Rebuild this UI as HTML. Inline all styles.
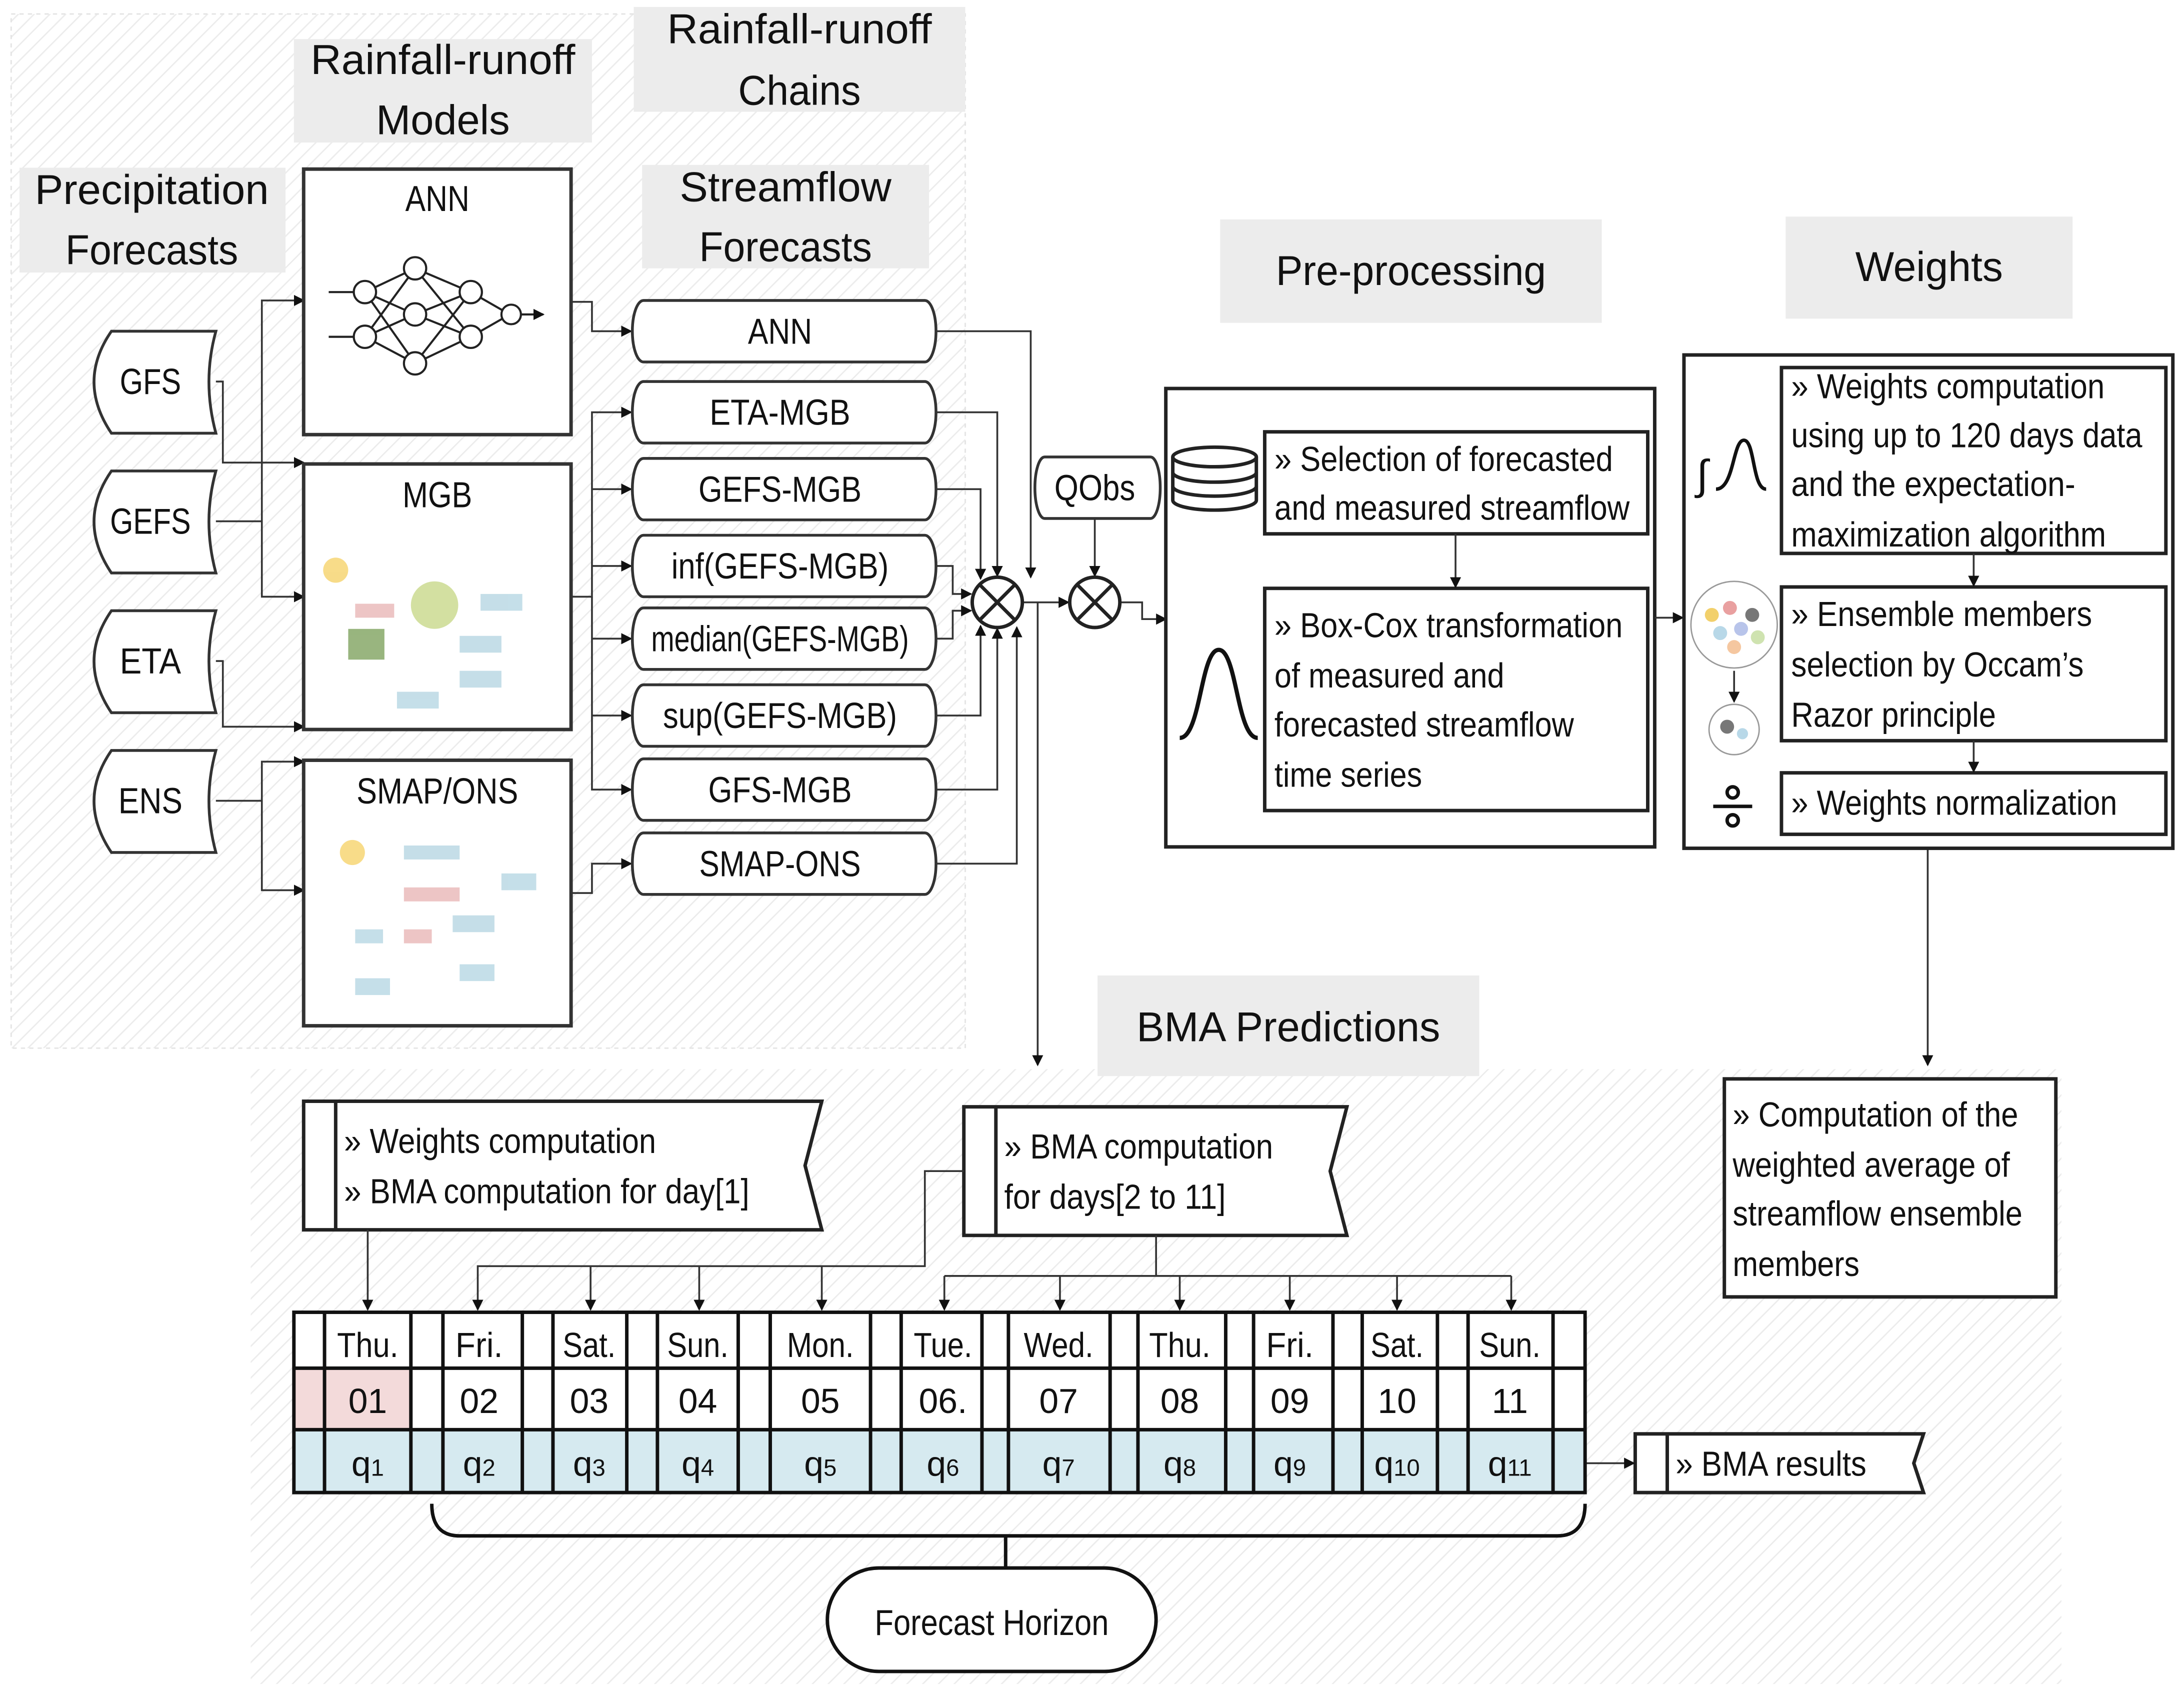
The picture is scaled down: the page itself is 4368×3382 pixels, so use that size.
<!DOCTYPE html>
<html><head><meta charset="utf-8"><style>
html,body{margin:0;padding:0;background:#fff}
svg{display:block}
text{font-family:"Liberation Sans Narrow","Liberation Sans",sans-serif;fill:#111}
</style></head><body>
<svg width="4368" height="3382" viewBox="0 0 1568 1210" preserveAspectRatio="none" xmlns="http://www.w3.org/2000/svg">
<defs>
<pattern id="h" width="8" height="8" patternUnits="userSpaceOnUse" patternTransform="rotate(45)">
<rect width="8" height="8" fill="#fff"/><line x1="0" y1="0" x2="0" y2="8" stroke="#ececec" stroke-width="2"/></pattern>
<marker id="a" markerWidth="8" markerHeight="8" refX="7" refY="4" orient="auto" markerUnits="userSpaceOnUse"><path d="M0,0 L8,4 L0,8z" fill="#111"/></marker>
</defs>
<rect x="8" y="10" width="685" height="740" fill="url(#h)" stroke="#e4e4e4" stroke-dasharray="3,3"/>
<rect x="180" y="765" width="1300" height="440" fill="url(#h)"/>

<g fill="#ececec">
<rect x="14" y="120" width="191" height="75"/><rect x="211" y="28" width="214" height="74"/>
<rect x="455" y="5" width="238" height="75"/><rect x="461" y="118" width="206" height="74"/>
<rect x="876" y="157" width="274" height="74"/><rect x="1282" y="155" width="206" height="73"/>
<rect x="788" y="698" width="274" height="72"/></g>
<g font-size="30" text-anchor="middle">
<text x="109" y="146" textLength="168" lengthAdjust="spacingAndGlyphs">Precipitation</text><text x="109" y="189" textLength="124" lengthAdjust="spacingAndGlyphs">Forecasts</text>
<text x="318" y="53" textLength="190" lengthAdjust="spacingAndGlyphs">Rainfall-runoff</text><text x="318" y="96" textLength="96" lengthAdjust="spacingAndGlyphs">Models</text>
<text x="574" y="31" textLength="190" lengthAdjust="spacingAndGlyphs">Rainfall-runoff</text><text x="574" y="75" textLength="88" lengthAdjust="spacingAndGlyphs">Chains</text>
<text x="564" y="144" textLength="152" lengthAdjust="spacingAndGlyphs">Streamflow</text><text x="564" y="187" textLength="124" lengthAdjust="spacingAndGlyphs">Forecasts</text>
<text x="1013" y="204" textLength="194" lengthAdjust="spacingAndGlyphs">Pre-processing</text><text x="1385" y="201" textLength="106" lengthAdjust="spacingAndGlyphs">Weights</text>
<text x="925" y="745" textLength="218" lengthAdjust="spacingAndGlyphs">BMA Predictions</text></g>

<!-- inputs -->
<g fill="#fff" stroke="#333" stroke-width="2">
<path d="M80,237 H155 Q145,273 155,310 H80 Q55,273 80,237z"/>
<path d="M80,337 H155 Q145,373 155,410 H80 Q55,373 80,337z"/>
<path d="M80,437 H155 Q145,473 155,510 H80 Q55,473 80,437z"/>
<path d="M80,537 H155 Q145,573 155,610 H80 Q55,573 80,537z"/></g>
<g font-size="26" text-anchor="middle"><text x="108" y="282" textLength="44" lengthAdjust="spacingAndGlyphs">GFS</text><text x="108" y="382" textLength="58" lengthAdjust="spacingAndGlyphs">GEFS</text><text x="108" y="482" textLength="44" lengthAdjust="spacingAndGlyphs">ETA</text><text x="108" y="582" textLength="46" lengthAdjust="spacingAndGlyphs">ENS</text></g>

<g stroke="#333" stroke-width="1.3" fill="none" marker-end="url(#a)">
<path d="M155,273 H160 V331 H218"/><path d="M155,373 H188 V215 H218"/>
<path d="M188,373 V427 H218"/><path d="M155,473 H160 V520 H218"/>
<path d="M155,573 H188 V545 H218"/><path d="M188,573 V637 H218"/></g>

<g fill="#fff" stroke="#333" stroke-width="2.5">
<rect x="218" y="121" width="192" height="190"/><rect x="218" y="332" width="192" height="190"/><rect x="218" y="544" width="192" height="190"/></g>
<g font-size="26" text-anchor="middle"><text x="314" y="151" textLength="46" lengthAdjust="spacingAndGlyphs">ANN</text><text x="314" y="363" textLength="50" lengthAdjust="spacingAndGlyphs">MGB</text><text x="314" y="575" textLength="116" lengthAdjust="spacingAndGlyphs">SMAP/ONS</text></g>
<g stroke="#222" stroke-width="1.5" fill="none">
<path d="M236,209 H254 M236,241 H254 M374,225 H390" marker-end="url(#a)"/>
<path d="M262,209 L298,192 M262,209 L298,225 M262,209 L298,260 M262,241 L298,192 M262,241 L298,225 M262,241 L298,260 M298,192 L338,209 M298,225 L338,209 M298,260 L338,209 M298,192 L338,241 M298,225 L338,241 M298,260 L338,241 M338,209 L366,225 M338,241 L366,225"/>
<g fill="#fff"><circle cx="262" cy="209" r="8"/><circle cx="262" cy="241" r="8"/><circle cx="298" cy="192" r="8"/><circle cx="298" cy="225" r="8"/><circle cx="298" cy="260" r="8"/><circle cx="338" cy="209" r="8"/><circle cx="338" cy="241" r="8"/><circle cx="367" cy="225" r="7"/></g></g>
<g opacity="0.8">
<circle cx="241" cy="408" r="9" fill="#f6d36b"/><circle cx="312" cy="433" r="17" fill="#c9d98a"/>
<rect x="255" y="432" width="28" height="10" fill="#e9b7b7"/><rect x="250" y="450" width="26" height="22" fill="#7fa35f"/>
<rect x="345" y="425" width="30" height="12" fill="#b7d7e3"/><rect x="330" y="455" width="30" height="12" fill="#b7d7e3"/><rect x="330" y="480" width="30" height="12" fill="#b7d7e3"/><rect x="285" y="495" width="30" height="12" fill="#b7d7e3"/>
<circle cx="253" cy="610" r="9" fill="#f6d36b"/><rect x="290" y="605" width="40" height="10" fill="#b7d7e3"/><rect x="290" y="635" width="40" height="10" fill="#e9b7b7"/>
<rect x="325" y="655" width="30" height="12" fill="#b7d7e3"/><rect x="255" y="665" width="20" height="10" fill="#b7d7e3"/><rect x="290" y="665" width="20" height="10" fill="#e9b7b7"/><rect x="255" y="700" width="25" height="12" fill="#b7d7e3"/><rect x="330" y="690" width="25" height="12" fill="#b7d7e3"/><rect x="360" y="625" width="25" height="12" fill="#b7d7e3"/></g>

<g stroke="#333" stroke-width="1.3" fill="none" marker-end="url(#a)">
<path d="M410,216 H425 V237 H453"/>
<path d="M410,427 H425 V295 H453"/><path d="M425,350 H453"/><path d="M425,405 H453"/><path d="M425,457 H453"/><path d="M425,512 H453"/><path d="M425,427 V565 H453"/>
<path d="M410,639 H425 V618 H453"/></g>

<g fill="#fff" stroke="#333" stroke-width="2">
<path d="M462,215 H664 A8,22 0 0 1 664,259 H462 A8,22 0 0 1 462,215z"/>
<path d="M462,273 H664 A8,22 0 0 1 664,317 H462 A8,22 0 0 1 462,273z"/>
<path d="M462,328 H664 A8,22 0 0 1 664,372 H462 A8,22 0 0 1 462,328z"/>
<path d="M462,383 H664 A8,22 0 0 1 664,427 H462 A8,22 0 0 1 462,383z"/>
<path d="M462,435 H664 A8,22 0 0 1 664,479 H462 A8,22 0 0 1 462,435z"/>
<path d="M462,490 H664 A8,22 0 0 1 664,534 H462 A8,22 0 0 1 462,490z"/>
<path d="M462,543 H664 A8,22 0 0 1 664,587 H462 A8,22 0 0 1 462,543z"/>
<path d="M462,596 H664 A8,22 0 0 1 664,640 H462 A8,22 0 0 1 462,596z"/></g>
<g font-size="26" text-anchor="middle">
<text x="560" y="246" textLength="46" lengthAdjust="spacingAndGlyphs">ANN</text><text x="560" y="304" textLength="101" lengthAdjust="spacingAndGlyphs">ETA-MGB</text><text x="560" y="359" textLength="117" lengthAdjust="spacingAndGlyphs">GEFS-MGB</text><text x="560" y="414" textLength="156" lengthAdjust="spacingAndGlyphs">inf(GEFS-MGB)</text><text x="560" y="466" textLength="185" lengthAdjust="spacingAndGlyphs">median(GEFS-MGB)</text><text x="560" y="521" textLength="168" lengthAdjust="spacingAndGlyphs">sup(GEFS-MGB)</text><text x="560" y="574" textLength="103" lengthAdjust="spacingAndGlyphs">GFS-MGB</text><text x="560" y="627" textLength="116" lengthAdjust="spacingAndGlyphs">SMAP-ONS</text></g>

<g stroke="#333" stroke-width="1.3" fill="none" marker-end="url(#a)">
<path d="M672,237 H740 V413"/><path d="M672,295 H716 V412"/><path d="M672,350 H704 V414"/>
<path d="M672,405 H684 V425 H697"/><path d="M672,457 H684 V437 H697"/>
<path d="M672,512 H704 V448"/><path d="M672,565 H716 V450"/><path d="M672,618 H730 V449"/>
<path d="M734,431 H767"/><path d="M786,371 V412"/><path d="M804,431 H820 V443 H837"/>
<path d="M745,431 V762"/></g>
<g fill="#fff" stroke="#222" stroke-width="2.5">
<circle cx="716" cy="431" r="18"/><circle cx="786" cy="431" r="18"/></g>
<g stroke="#222" stroke-width="2.5"><path d="M703,418 L729,444 M729,418 L703,444 M773,418 L799,444 M799,418 L773,444"/></g>
<path d="M750,327 H826 A7,22 0 0 1 826,371 H750 A7,22 0 0 1 750,327z" fill="#fff" stroke="#333" stroke-width="2"/>
<text x="786" y="358" font-size="26" text-anchor="middle" textLength="58" lengthAdjust="spacingAndGlyphs">QObs</text>

<rect x="837" y="278" width="351" height="328" fill="#fff" stroke="#222" stroke-width="2.5"/>
<rect x="908" y="309" width="275" height="73" fill="#fff" stroke="#222" stroke-width="2.5"/>
<rect x="908" y="421" width="275" height="159" fill="#fff" stroke="#222" stroke-width="2.5"/>
<g font-size="25"><text x="915" y="337" textLength="243" lengthAdjust="spacingAndGlyphs">» Selection of forecasted</text><text x="915" y="372" textLength="255" lengthAdjust="spacingAndGlyphs">and measured streamflow</text>
<text x="915" y="456" textLength="250" lengthAdjust="spacingAndGlyphs">» Box-Cox transformation</text><text x="915" y="492" textLength="165" lengthAdjust="spacingAndGlyphs">of measured and</text><text x="915" y="527" textLength="215" lengthAdjust="spacingAndGlyphs">forecasted streamflow</text><text x="915" y="563" textLength="106" lengthAdjust="spacingAndGlyphs">time series</text></g>
<g fill="#fff" stroke="#222" stroke-width="2.5"><path d="M842,327 V358 A30,7 0 0 0 902,358 V327"/><ellipse cx="872" cy="327" rx="30" ry="7"/><path d="M842,338 A30,7 0 0 0 902,338 M842,348 A30,7 0 0 0 902,348" fill="none"/></g>
<path d="M847,528 C862,528 862,465 875,465 C888,465 888,528 903,528" fill="none" stroke="#111" stroke-width="3"/>
<g stroke="#333" stroke-width="1.3" fill="none" marker-end="url(#a)"><path d="M1045,382 V420"/><path d="M1188,442 H1208"/><path d="M1384,607 V762"/></g>

<rect x="1209" y="254" width="351" height="353" fill="#fff" stroke="#222" stroke-width="2.5"/>
<g fill="#fff" stroke="#222" stroke-width="2.5"><rect x="1279" y="263" width="276" height="133"/><rect x="1279" y="420" width="276" height="110"/><rect x="1279" y="553" width="276" height="44"/></g>
<g font-size="25"><text x="1286" y="285" textLength="225" lengthAdjust="spacingAndGlyphs">» Weights computation</text><text x="1286" y="320" textLength="252" lengthAdjust="spacingAndGlyphs">using up to 120 days data</text><text x="1286" y="355" textLength="204" lengthAdjust="spacingAndGlyphs">and the expectation-</text><text x="1286" y="391" textLength="226" lengthAdjust="spacingAndGlyphs">maximization algorithm</text>
<text x="1286" y="448" textLength="216" lengthAdjust="spacingAndGlyphs">» Ensemble members</text><text x="1286" y="484" textLength="210" lengthAdjust="spacingAndGlyphs">selection by Occam’s</text><text x="1286" y="520" textLength="147" lengthAdjust="spacingAndGlyphs">Razor principle</text><text x="1286" y="583" textLength="234" lengthAdjust="spacingAndGlyphs">» Weights normalization</text></g>
<g stroke="#333" stroke-width="1.3" fill="none" marker-end="url(#a)"><path d="M1417,396 V419"/><path d="M1417,530 V552"/><path d="M1245,480 V502"/></g>
<text x="1218" y="350" font-size="30">∫</text><path d="M1232,350 C1245,350 1244,315 1252,315 C1260,315 1258,350 1268,350" fill="none" stroke="#111" stroke-width="2.5"/>
<circle cx="1245" cy="447" r="31" fill="#fff" stroke="#999"/>
<g><circle cx="1229" cy="440" r="5" fill="#f2d06b"/><circle cx="1242" cy="435" r="5" fill="#e9a0a0"/><circle cx="1258" cy="440" r="5" fill="#777"/><circle cx="1235" cy="453" r="5" fill="#b8d8e8"/><circle cx="1250" cy="450" r="5" fill="#b8c4ea"/><circle cx="1245" cy="463" r="5" fill="#f5c7a0"/><circle cx="1262" cy="456" r="5" fill="#cfe3b0"/></g>
<circle cx="1245" cy="522" r="18" fill="#fff" stroke="#999"/><circle cx="1240" cy="520" r="5" fill="#777"/><circle cx="1251" cy="525" r="4" fill="#b8d8e8"/>
<g stroke="#111" stroke-width="2.5" fill="none"><line x1="1230" y1="577" x2="1258" y2="577"/><circle cx="1244" cy="567" r="4"/><circle cx="1244" cy="587" r="4"/></g>

<rect x="1238" y="772" width="238" height="156" fill="#fff" stroke="#222" stroke-width="2.5"/>
<g font-size="25"><text x="1244" y="806" textLength="205" lengthAdjust="spacingAndGlyphs">» Computation of the</text><text x="1244" y="842" textLength="199" lengthAdjust="spacingAndGlyphs">weighted average of</text><text x="1244" y="877" textLength="208" lengthAdjust="spacingAndGlyphs">streamflow ensemble</text><text x="1244" y="913" textLength="91" lengthAdjust="spacingAndGlyphs">members</text></g>

<g fill="#fff" stroke="#222" stroke-width="2.5">
<path d="M218,788 H590 L578,834 L590,880 H218z"/><line x1="241" y1="788" x2="241" y2="880"/>
<path d="M692,792 H967 L955,838 L967,884 H692z"/><line x1="715" y1="792" x2="715" y2="884"/>
<path d="M1174,1026 H1381 L1374,1047 L1381,1068 H1174z"/><line x1="1197" y1="1026" x2="1197" y2="1068"/></g>
<g font-size="25"><text x="247" y="825" textLength="224" lengthAdjust="spacingAndGlyphs">» Weights computation</text><text x="247" y="861" textLength="291" lengthAdjust="spacingAndGlyphs">» BMA computation for day[1]</text>
<text x="721" y="829" textLength="193" lengthAdjust="spacingAndGlyphs">» BMA computation</text><text x="721" y="865" textLength="159" lengthAdjust="spacingAndGlyphs">for days[2 to 11]</text><text x="1203" y="1056" textLength="137" lengthAdjust="spacingAndGlyphs">» BMA results</text></g>

<g stroke="#333" stroke-width="1.3" fill="none">
<path d="M264,880 V937" marker-end="url(#a)"/>
<path d="M692,838 H664 V906 H343 V937" marker-end="url(#a)"/>
<path d="M424,906 V937" marker-end="url(#a)"/><path d="M502,906 V937" marker-end="url(#a)"/><path d="M590,906 V937" marker-end="url(#a)"/>
<path d="M830,884 V913 M678,913 H1085"/>
<path d="M678,913 V937" marker-end="url(#a)"/><path d="M761,913 V937" marker-end="url(#a)"/><path d="M847,913 V937" marker-end="url(#a)"/><path d="M926,913 V937" marker-end="url(#a)"/><path d="M1003,913 V937" marker-end="url(#a)"/><path d="M1085,913 V937" marker-end="url(#a)"/>
<path d="M1138,1047 H1173" marker-end="url(#a)"/></g>

<rect x="211" y="939" width="927" height="129" fill="#fff"/>
<rect x="211" y="979" width="84" height="44" fill="#f3dada"/>
<rect x="211" y="1023" width="927" height="45" fill="#d6eaf0"/>
<g stroke="#111" stroke-width="2.5" fill="none">
<rect x="211" y="939" width="927" height="129"/><line x1="211" y1="979" x2="1138" y2="979"/><line x1="211" y1="1023" x2="1138" y2="1023"/>
<path d="M233,939V1068 M295,939V1068 M318,939V1068 M375,939V1068 M397,939V1068 M450,939V1068 M472,939V1068 M530,939V1068 M553,939V1068 M625,939V1068 M647,939V1068 M705,939V1068 M724,939V1068 M797,939V1068 M817,939V1068 M880,939V1068 M900,939V1068 M957,939V1068 M978,939V1068 M1032,939V1068 M1054,939V1068 M1115,939V1068"/></g>
<g font-size="25" text-anchor="middle">
<text x="264" y="971" textLength="44" lengthAdjust="spacingAndGlyphs">Thu.</text><text x="344" y="971" textLength="34" lengthAdjust="spacingAndGlyphs">Fri.</text><text x="423" y="971" textLength="38" lengthAdjust="spacingAndGlyphs">Sat.</text><text x="501" y="971" textLength="44" lengthAdjust="spacingAndGlyphs">Sun.</text><text x="589" y="971" textLength="48" lengthAdjust="spacingAndGlyphs">Mon.</text><text x="677" y="971" textLength="42" lengthAdjust="spacingAndGlyphs">Tue.</text><text x="760" y="971" textLength="50" lengthAdjust="spacingAndGlyphs">Wed.</text><text x="847" y="971" textLength="44" lengthAdjust="spacingAndGlyphs">Thu.</text><text x="926" y="971" textLength="34" lengthAdjust="spacingAndGlyphs">Fri.</text><text x="1003" y="971" textLength="38" lengthAdjust="spacingAndGlyphs">Sat.</text><text x="1084" y="971" textLength="44" lengthAdjust="spacingAndGlyphs">Sun.</text>
<text x="264" y="1011">01</text><text x="344" y="1011">02</text><text x="423" y="1011">03</text><text x="501" y="1011">04</text><text x="589" y="1011">05</text><text x="677" y="1011">06.</text><text x="760" y="1011">07</text><text x="847" y="1011">08</text><text x="926" y="1011">09</text><text x="1003" y="1011">10</text><text x="1084" y="1011">11</text>
<text x="264" y="1056">q<tspan font-size="17">1</tspan></text><text x="344" y="1056">q<tspan font-size="17">2</tspan></text><text x="423" y="1056">q<tspan font-size="17">3</tspan></text><text x="501" y="1056">q<tspan font-size="17">4</tspan></text><text x="589" y="1056">q<tspan font-size="17">5</tspan></text><text x="677" y="1056">q<tspan font-size="17">6</tspan></text><text x="760" y="1056">q<tspan font-size="17">7</tspan></text><text x="847" y="1056">q<tspan font-size="17">8</tspan></text><text x="926" y="1056">q<tspan font-size="17">9</tspan></text><text x="1003" y="1056">q<tspan font-size="17">10</tspan></text><text x="1084" y="1056">q<tspan font-size="17">11</tspan></text></g>

<path d="M310,1076 Q310,1099 330,1099 H1118 Q1138,1099 1138,1076 M722,1099 V1122" fill="none" stroke="#111" stroke-width="2.5"/>
<rect x="594" y="1122" width="236" height="74" rx="37" fill="#fff" stroke="#111" stroke-width="2.5"/>
<text x="712" y="1170" font-size="26" text-anchor="middle" textLength="168" lengthAdjust="spacingAndGlyphs">Forecast Horizon</text>
</svg>
</body></html>
